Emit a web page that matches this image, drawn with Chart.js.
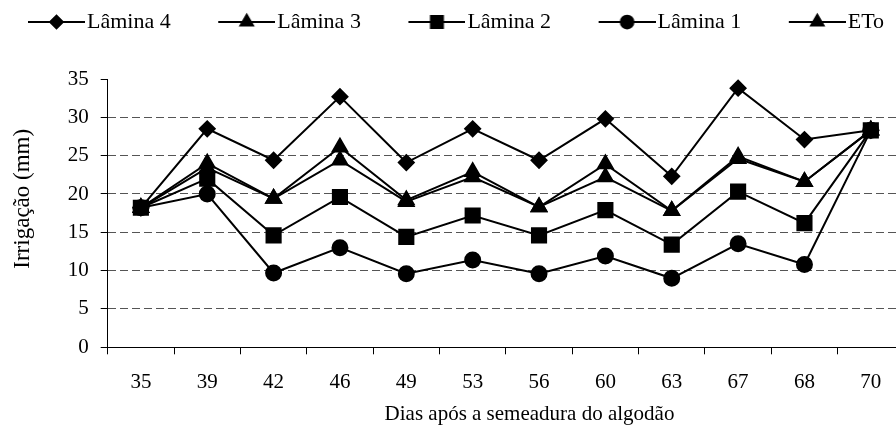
<!DOCTYPE html>
<html>
<head>
<meta charset="utf-8">
<script src="https://cdn.jsdelivr.net/npm/chart.js"></script>
<style>
  * { margin: 0; padding: 0; box-sizing: border-box; }
  body { background: #fff; overflow: hidden; width: 896px; height: 430px; }
  canvas { display: block; }
</style>
</head>
<body>
<canvas id="chart" width="916" height="430"></canvas>

<script>
  // Dias após a semeadura
  const dias = ['35', '39', '42', '46', '49', '53', '56', '60', '63', '67', '68', '70'];

  // Irrigação (mm) por tratamento
  const lamina4 = [18.2, 28.5, 24.4, 32.7, 24.1, 28.5, 24.4, 29.8, 22.3, 33.8, 27.1, 28.3];
  const lamina3 = [18.2, 24.0, 19.4, 26.1, 19.2, 22.9, 18.3, 23.9, 17.8, 24.9, 21.6, 28.3];
  const lamina2 = [18.2, 22.0, 14.6, 19.6, 14.4, 17.2, 14.6, 17.9, 13.4, 20.3, 16.2, 28.3];
  const lamina1 = [18.2, 20.0, 9.7, 13.0, 9.6, 11.4, 9.6, 11.9, 9.0, 13.5, 10.8, 28.3];
  const eto = [18.2, 23.4, 19.4, 24.4, 19.0, 22.2, 18.3, 22.2, 17.8, 24.6, 21.6, 28.3];

  const yTicks = [0, 5, 10, 15, 20, 25, 30, 35];

  const FONT = "'Liberation Serif', 'Times New Roman', serif";
  const NBSP = '\u00A0';

  // legend icon: a short line with the marker in the middle
  function legendIcon(style, r) {
    const c = document.createElement('canvas');
    c.width = 84; c.height = 22;
    const g = c.getContext('2d');
    g.strokeStyle = '#000';
    g.fillStyle = '#000';
    g.lineWidth = 2;
    g.beginPath();
    g.moveTo(27, 11);
    g.lineTo(84, 11);
    g.stroke();
    Chart.helpers.drawPoint(g, { pointStyle: style, radius: r, borderWidth: 1 }, 55.5, 11);
    return c;
  }

  function serie(label, data, style, r, order) {
    return {
      label: label,
      data: data,
      borderColor: '#000',
      backgroundColor: '#000',
      borderWidth: 2,
      pointStyle: style,
      pointRadius: r,
      pointHoverRadius: r,
      pointBackgroundColor: '#000',
      pointBorderColor: '#000',
      tension: 0,
      order: order
    };
  }

  // extra room under the legend
  const legendGap = {
    id: 'legendGap',
    beforeInit(chart) {
      const fit = chart.legend.fit;
      chart.legend.fit = function () {
        fit.call(this);
        this.height += 36;
      };
    }
  };

  const ctx = document.getElementById('chart').getContext('2d');
  const chart = new Chart(ctx, {
    type: 'line',
    data: {
      labels: dias,
      datasets: [
        serie('Lâmina 4', lamina4, 'rectRot', 7.5, 4),
        serie('Lâmina 3', lamina3, 'triangle', 8.5, 3),
        serie('Lâmina 2', lamina2, 'rect', 10, 0),
        serie('Lâmina 1', lamina1, 'circle', 7.5, 1),
        serie('ETo', eto, 'triangle', 8.5, 2)
      ]
    },
    plugins: [legendGap],
    options: {
      responsive: false,
      animation: false,
      layout: { padding: { left: 8, right: 2, top: 9, bottom: 2 } },
      plugins: {
        tooltip: { enabled: false },
        legend: {
          position: 'top',
          align: 'start',
          labels: {
            usePointStyle: true,
            pointStyleWidth: 66,
            padding: 2,
            color: '#000',
            font: { family: FONT, size: 22 },
            generateLabels: (ch) => ch.data.datasets.map((ds, i) => ({
              text: i < ch.data.datasets.length - 1 ? ds.label + '     ' : ds.label,
              datasetIndex: i,
              fontColor: '#000',
              lineWidth: 0,
              pointStyle: legendIcon(ds.pointStyle, ds.pointRadius * 0.85)
            }))
          }
        }
      },
      scales: {
        x: {
          type: 'category',
          offset: true,
          afterFit: (s) => { s.paddingLeft = 0; s.paddingRight = 0; },
          grid: {
            offset: true,
            drawOnChartArea: false,
            drawTicks: true,
            tickLength: 7,
            tickColor: '#000'
          },
          border: { color: '#000', width: 1 },
          ticks: {
            color: '#000',
            padding: 16,
            maxRotation: 0,
            autoSkip: false,
            font: { family: FONT, size: 21 }
          },
          title: {
            display: true,
            text: NBSP.repeat(9) + 'Dias após a semeadura do algodão',
            color: '#000',
            font: { family: FONT, size: 21 },
            padding: { top: -10.1, bottom: 1.4 }
          }
        },
        y: {
          min: 0,
          max: 35,
          afterBuildTicks: (axis) => { axis.ticks = yTicks.map(v => ({ value: v })); },
          grid: {
            color: (c) => (c.tick && c.tick.value > 0 && c.tick.value < 35) ? '#555' : 'rgba(0,0,0,0)',
            lineWidth: 1,
            drawTicks: true,
            tickLength: 7,
            tickColor: '#000'
          },
          border: { color: '#000', width: 1, dash: [8, 4] },
          ticks: {
            color: '#000',
            padding: 12,
            font: { family: FONT, size: 21 }
          },
          title: {
            display: true,
            text: NBSP.repeat(5) + 'Irrigação (mm)',
            color: '#000',
            font: { family: FONT, size: 23 },
            padding: { top: 1.2, bottom: 18.9 }
          }
        }
      }
    }
  });
</script>
</body>
</html>
